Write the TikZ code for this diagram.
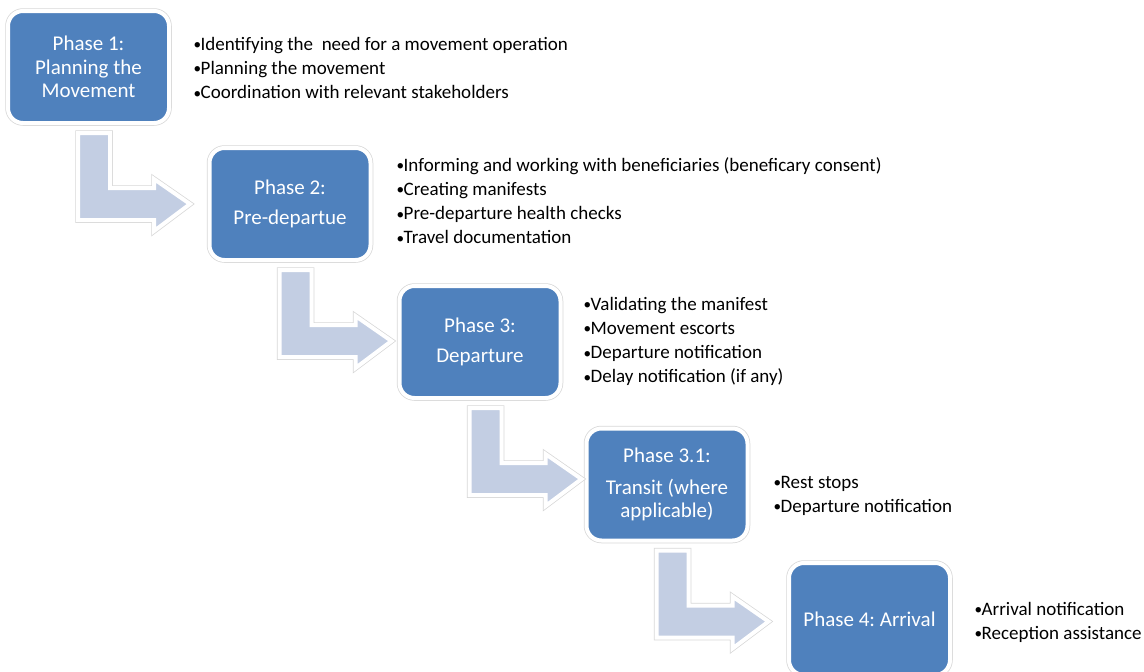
\documentclass[tikz,border=0pt]{standalone}
\usepackage{fontspec}
\setmainfont{Carlito}
\usetikzlibrary{calc}
\definecolor{phaseblue}{RGB}{79,129,189}
\definecolor{arrowfill}{RGB}{195,206,227}
\definecolor{rimgray}{RGB}{215,215,215}
\newcommand{\itm}{\makebox[7pt][l]{\raisebox{0.6pt}{\scalebox{0.8}{•}}}}
\frenchspacing

\begin{document}
\begin{tikzpicture}
[x=1pt,y=-1pt,
 phase/.style={rounded corners=15pt,fill=phaseblue,draw=white,line width=4pt,
   preaction={draw=rimgray,line width=5.5pt},minimum width=161pt,minimum height=112pt,
   inner sep=0pt,text=white,align=center,font=\fontsize{21}{23.5}\selectfont},
 tasks/.style={anchor=base west,align=left,inner sep=0pt,font=\fontsize{19}{24.3}\selectfont},
 bentarrow/.style={fill=arrowfill,draw=white,line width=4pt,
   preaction={draw=rimgray,line width=5.5pt}}]
\useasboundingbox (0,0) rectangle (1144,672);
\node[phase] (p1) at (88.5,67) {Phase 1:\\Planning the\\Movement};
\node[phase] (p2) at (290,204) {Phase 2:\\[7pt]Pre-departue};
\node[phase] (p3) at (480,342) {Phase 3:\\[7pt]Departure};
\node[phase] (p31) at (667,484.5) {Phase 3.1:\\[8pt]Transit (where\\applicable)};
\node[phase] (p4) at (869.5,619) {Phase 4: Arrival};
% lists: anchored on the baseline of their last line
\node[tasks] (t1) at (193.5,98.6) {\itm Identifying the\ \ need for a movement operation\\
  \itm Planning the movement\\\itm Coordination with relevant stakeholders};
\node[tasks] (t2) at (396.5,243.9) {\itm Informing and working with beneficiaries (beneficary consent)\\
  \itm Creating manifests\\\itm Pre-departure health checks\\\itm Travel documentation};
\node[tasks] (t3) at (583.5,382.9) {\itm Validating the manifest\\\itm Movement escorts\\
  \itm Departure notification\\\itm Delay notification (if any)};
\node[tasks] (t31) at (773.5,512.3) {\itm Rest stops\\\itm Departure notification};
\node[tasks] (t4) at (974.5,639.3) {\itm Arrival notification\\\itm Reception assistance};
\foreach \from in {p1,p2,p3,p31}
\draw[bentarrow] ($(\from.south)+(-10.5,8)$) -- ++(32,0) -- ++(0,55) -- ++(44,0) -- ++(0,-9)
  -- ++(36,25) -- ++(-36,27) -- ++(0,-11) -- ++(-76,0) -- cycle;
\end{tikzpicture}
\end{document}
